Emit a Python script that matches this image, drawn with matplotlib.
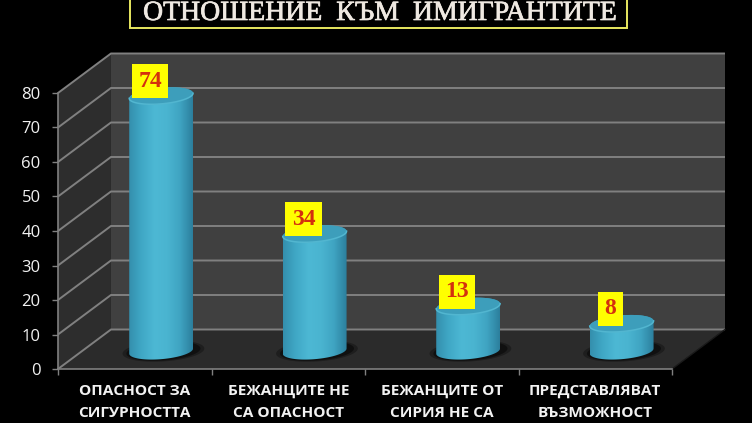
import numpy as np
import matplotlib
matplotlib.use("Agg")
import matplotlib.pyplot as plt
import matplotlib.patheffects as pe
from matplotlib.colors import LinearSegmentedColormap
from matplotlib.patches import Polygon, Rectangle

title = "ОТНОШЕНИЕ  КЪМ  ИМИГРАНТИТЕ"
categories = ["ОПАСНОСТ ЗА\nСИГУРНОСТТА", "БЕЖАНЦИТЕ НЕ\nСА ОПАСНОСТ",
              "БЕЖАНЦИТЕ ОТ\nСИРИЯ НЕ СА", "ПРЕДСТАВЛЯВАТ\nВЪЗМОЖНОСТ"]
values = [74, 34, 13, 8]
y_ticks = [0, 10, 20, 30, 40, 50, 60, 70, 80]

W, H = 752, 423
fig = plt.figure(figsize=(W / 100, H / 100), dpi=100, facecolor="black")
ax = fig.add_axes([58 / W, (H - 369) / H, 614 / W, 276 / H], facecolor="none")
ax.set_xlim(0, 4)
ax.set_ylim(0, 80)

# Depth of the pseudo-3D box, in data units
ddx, ddy = 0.345, 11.45
grid_col = "#808080"

# Walls and floor
ax.add_patch(Polygon([(ddx, ddy), (4 + ddx, ddy), (4 + ddx, 80 + ddy), (ddx, 80 + ddy)],
                     fc="#404040", ec="none", clip_on=False, zorder=1))
ax.add_patch(Polygon([(0, 0), (ddx, ddy), (ddx, 80 + ddy), (0, 80)],
                     fc="#2d2d2d", ec="none", clip_on=False, zorder=1))
ax.add_patch(Polygon([(0, 0), (4, 0), (4 + ddx, ddy), (ddx, ddy)],
                     fc="#2b2b2b", ec="none", clip_on=False, zorder=1))
for t in y_ticks:
    ax.plot([0, ddx, 4 + ddx], [t, t + ddy, t + ddy], color=grid_col, lw=1.4,
            clip_on=False, zorder=2, solid_capstyle="butt")
ax.plot([4, 4 + ddx], [0, ddy], color="#1a1a1a", lw=1, clip_on=False, zorder=2)

# Cylinders
cmap = LinearSegmentedColormap.from_list(
    "cyl", ["#348fad", "#40a8c6", "#4db8d4", "#4ab4d0", "#3fa4c2", "#2c7f9d"])
bar_dx, half_w = 0.172, 0.208
base_y = 5.2
b_e, c_e = 2.35, 0.75
t = np.linspace(0, 2 * np.pi, 181)
grad = np.linspace(0, 1, 128).reshape(1, -1)

for i, v in enumerate(values):
    cx = i + 0.5 + bar_dx
    ex = cx + half_w * np.cos(t)
    esh = b_e * np.sin(t) + c_e * np.cos(t)
    # shadow (two soft layers)
    for scale, alpha in ((1.28, 0.3), (1.16, 0.45)):
        ax.add_patch(Polygon(np.c_[cx + 0.015 + half_w * scale * np.cos(t),
                                   base_y + b_e * scale * np.sin(t) + c_e * np.cos(t)],
                             fc="#000000", alpha=alpha, ec="none", zorder=3, clip_on=False))
    top_y = v + base_y
    # body = lower half of the base + upper half of the top
    lower = t[t >= np.pi]
    upper = t[t <= np.pi]
    lx = cx + half_w * np.cos(lower)
    ly = base_y + b_e * np.sin(lower) + c_e * np.cos(lower)
    ux = cx + half_w * np.cos(upper)
    uy = top_y + b_e * np.sin(upper) + c_e * np.cos(upper)
    body = Polygon(np.r_[np.c_[lx, ly], np.c_[ux, uy]], fc="none", ec="none")
    ax.add_patch(body)
    im = ax.imshow(grad, cmap=cmap, aspect="auto", zorder=4, interpolation="bilinear",
                   extent=[cx - half_w, cx + half_w, 0, 90])
    im.set_clip_path(body)
    im.set_clip_box(fig.bbox)
    # top face
    ax.add_patch(Polygon(np.c_[ex, top_y + esh], fc="#3d9ebb", ec="none",
                         zorder=5, clip_on=False))
    front = t >= np.pi
    ax.plot(ex[front], (top_y + esh)[front], color="#52b6d0", lw=1.1, zorder=6, clip_on=False)
    # value label
    ax.annotate(str(v), xy=(cx, v), xytext=(-8, 23.4),
                textcoords="offset points", ha="center", va="center",
                family="Liberation Serif", fontweight="bold", fontsize=17,
                color="#d4300e", zorder=8, annotation_clip=False,
                bbox=dict(boxstyle="square,pad=0.27", fc="#ffff00", ec="none"))

ax.set_xlim(0, 4)
ax.set_ylim(0, 80)

# Axes, ticks, labels
for s in ("top", "right"):
    ax.spines[s].set_visible(False)
for s in ("left", "bottom"):
    ax.spines[s].set_color(grid_col)
    ax.spines[s].set_linewidth(1.2)
    ax.spines[s].set_zorder(2.5)
ax.set_yticks(y_ticks)
ax.tick_params(axis="y", colors=grid_col, labelcolor="#f2f2f2", length=4.5, width=1, pad=8,
               labelsize=12)
for lab in ax.get_yticklabels():
    lab.set_family("Open Sans")
ax.set_xticks(np.arange(4) + 0.5)
ax.set_xticklabels(categories, family="Open Sans", fontweight="bold", fontsize=11.1,
                   color="#f2f2f2", linespacing=1.72)
ax.set_xticks(np.arange(5), minor=True)
ax.tick_params(axis="x", which="major", length=0, pad=10.5)
ax.tick_params(axis="x", which="minor", length=4.5, width=1, color=grid_col)

# Title box
fig.add_artist(Rectangle((130 / W, (H - 28.5) / H), 497 / W, 40 / H,
                         transform=fig.transFigure, fc="black", ec="#e8e860", lw=1.4))
fig.text(379.5 / W, (H - 20) / H, title, ha="center", va="baseline", color="#efe9e2",
         family="Liberation Serif", fontsize=20,
         path_effects=[pe.withStroke(linewidth=0.5, foreground="#efe9e2")])

fig.savefig("out.png", dpi=100, facecolor="black")
